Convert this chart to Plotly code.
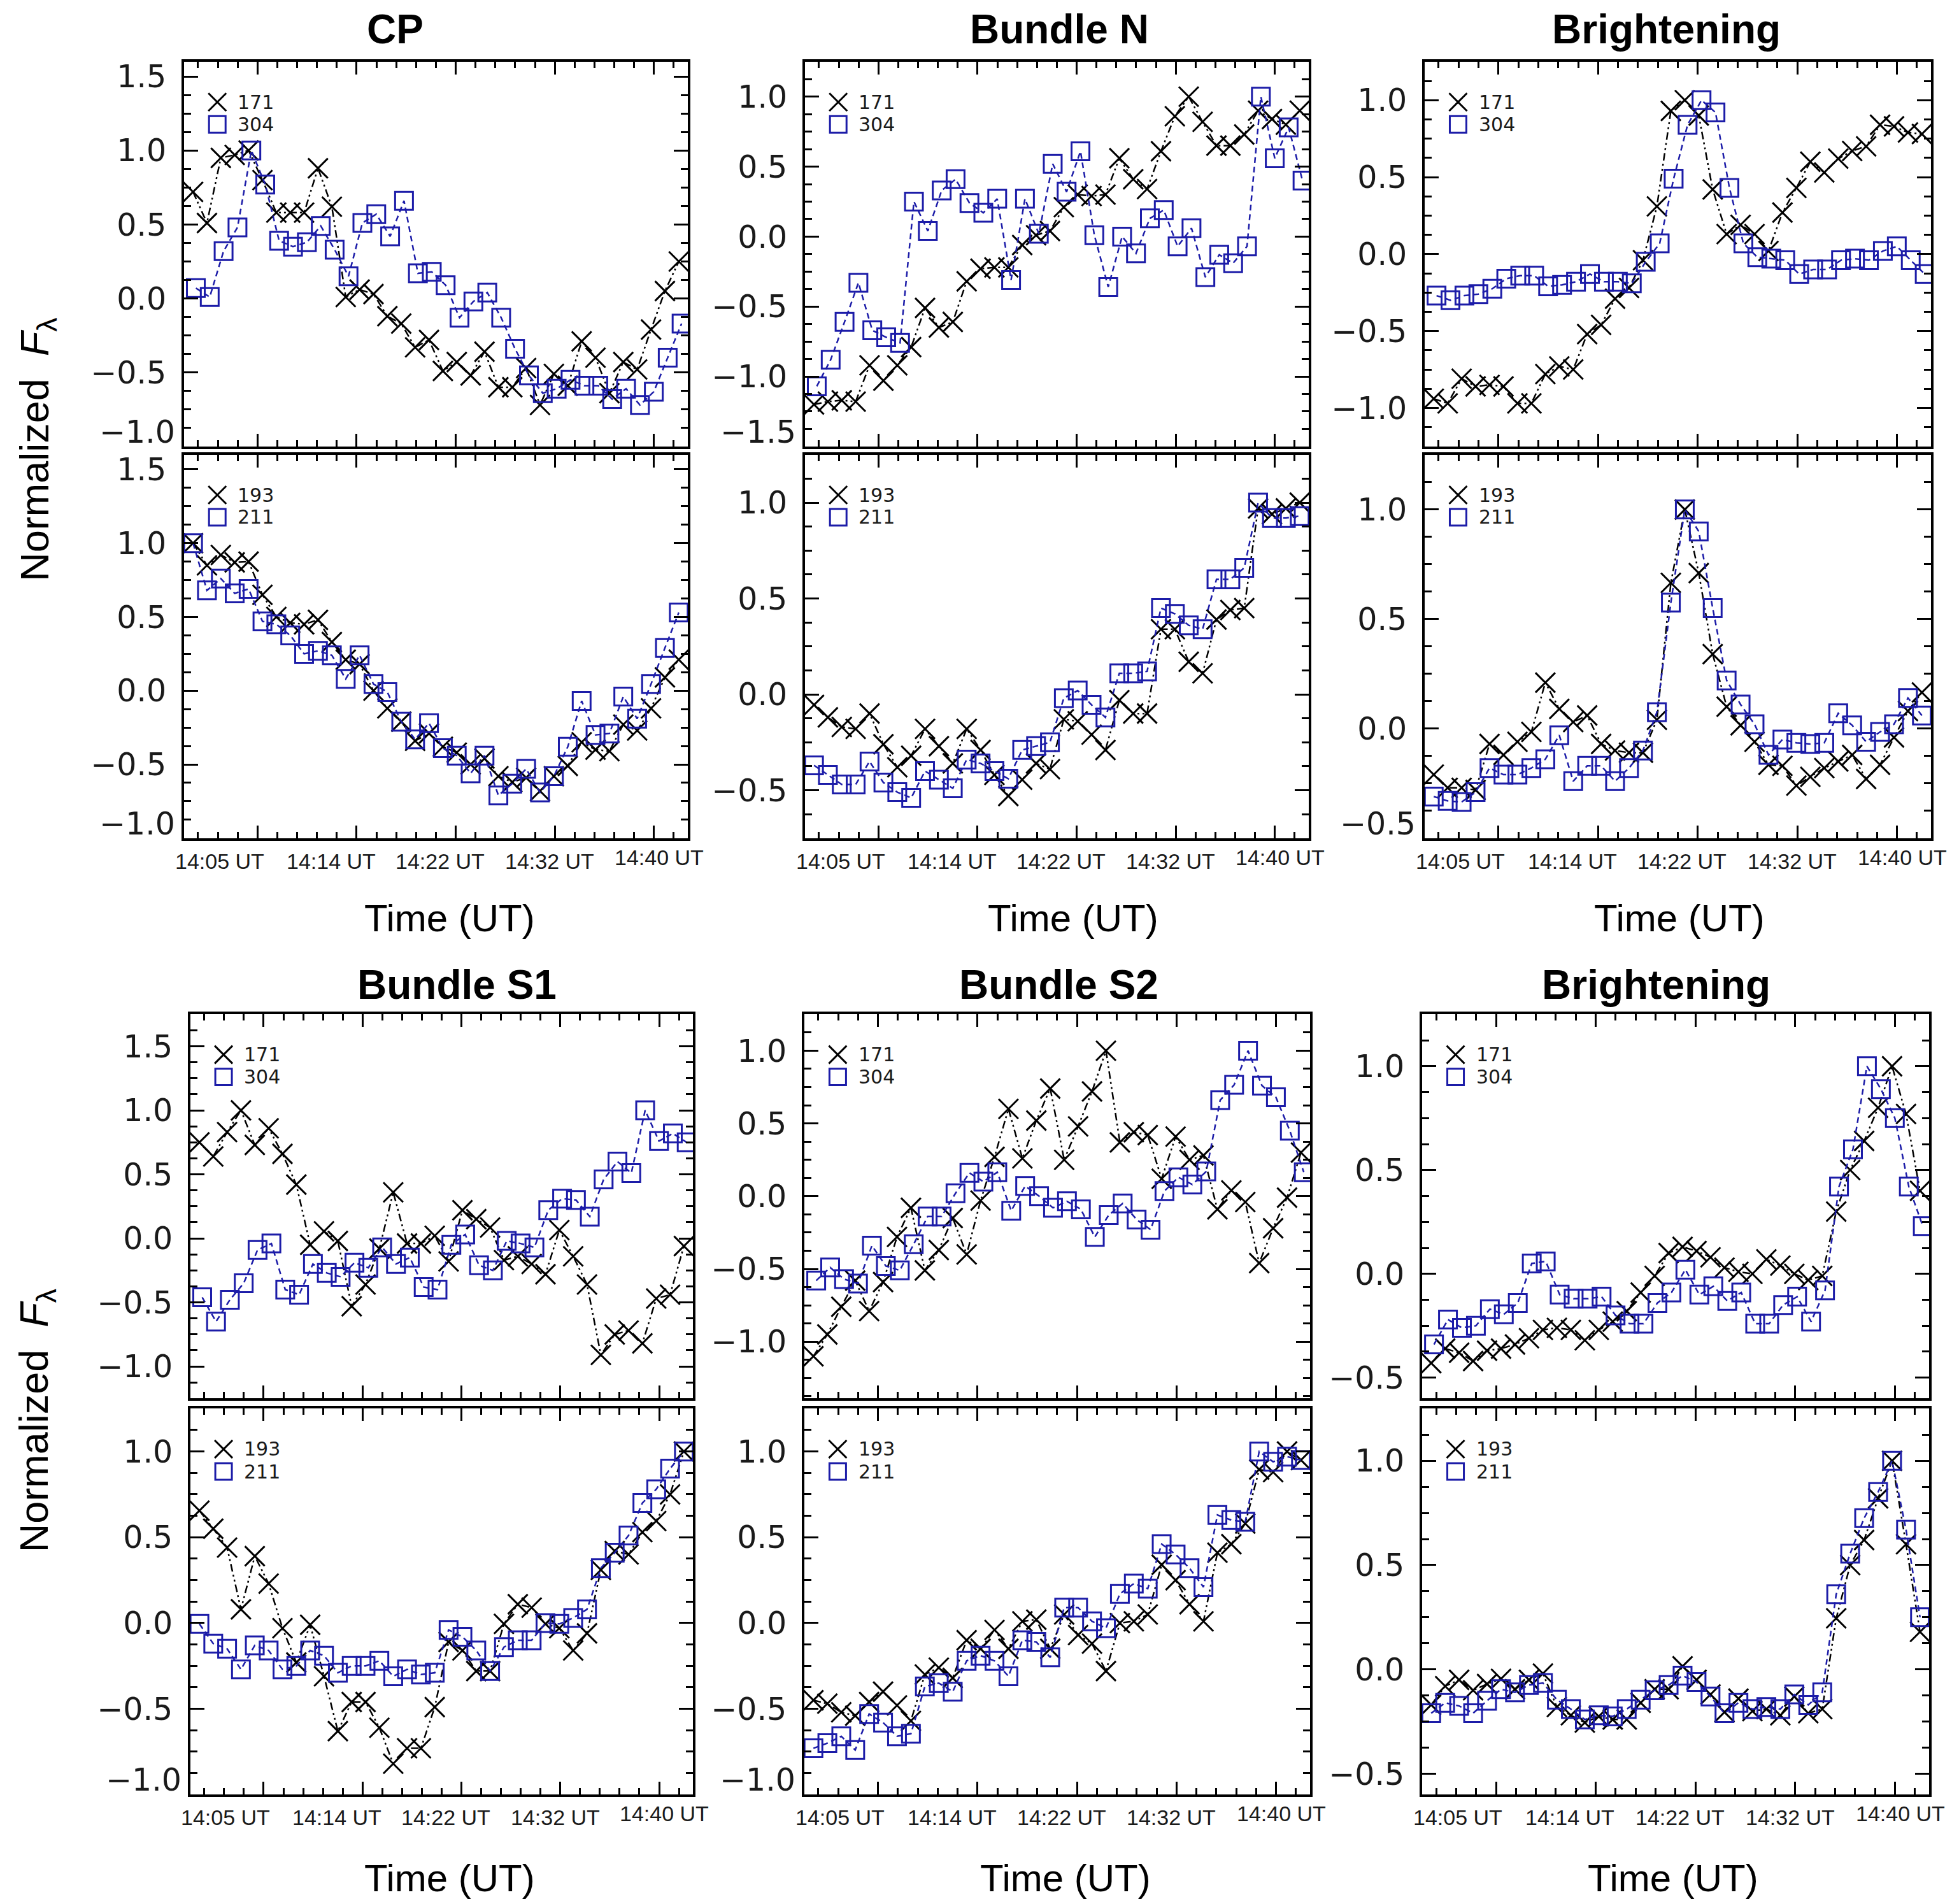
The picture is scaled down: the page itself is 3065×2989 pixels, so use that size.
import plotly.graph_objects as go
import math

# ---------------- data (normalized intensities, one value per frame) ----------------
frame_index = list(range(36))

time_labels = ["14:05 UT", "14:14 UT", "14:22 UT", "14:32 UT", "14:40 UT"]
titles = ["CP", "Bundle N", "Brightening", "Bundle S1", "Bundle S2", "Brightening"]
channels_top = ["171", "304"]
channels_bot = ["193", "211"]

cp_171 = [0.72, 0.51, 0.95, 0.97, 1.0, 0.80, 0.58, 0.58, 0.58, 0.88, 0.62, 0.01, 0.06, 0.03, -0.12, -0.17,
          -0.33, -0.28, -0.49, -0.43, -0.52, -0.36, -0.60, -0.60, -0.47, -0.72, -0.51, -0.59, -0.29, -0.40,
          -0.64, -0.43, -0.48, -0.21, 0.05, 0.25]
cp_304 = [0.07, 0.01, 0.32, 0.48, 1.0, 0.77, 0.39, 0.35, 0.38, 0.49, 0.33, 0.15, 0.51, 0.57, 0.42, 0.66,
          0.17, 0.18, 0.09, -0.13, -0.02, 0.04, -0.13, -0.34, -0.52, -0.64, -0.61, -0.55, -0.59, -0.59,
          -0.68, -0.61, -0.72, -0.63, -0.40, -0.17]
cp_193 = [1.0, 0.85, 0.92, 0.87, 0.875, 0.65, 0.50, 0.46, 0.45, 0.48, 0.33, 0.21, 0.18, 0.0, -0.12, -0.21,
          -0.34, -0.29, -0.38, -0.42, -0.50, -0.46, -0.58, -0.62, -0.59, -0.68, -0.58, -0.51, -0.35, -0.40,
          -0.41, -0.23, -0.27, -0.12, 0.09, 0.21]
cp_211 = [1.0, 0.68, 0.76, 0.66, 0.69, 0.47, 0.45, 0.375, 0.25, 0.27, 0.24, 0.08, 0.24, 0.045, -0.01, -0.21,
          -0.33, -0.22, -0.39, -0.44, -0.56, -0.44, -0.71, -0.63, -0.53, -0.69, -0.58, -0.38, -0.07, -0.30,
          -0.29, -0.04, -0.19, 0.045, 0.29, 0.53]

bn_171 = [-1.20, -1.18, -1.17, -1.18, -0.92, -1.03, -0.92, -0.79, -0.51, -0.65, -0.61, -0.32, -0.23, -0.22,
          -0.22, -0.06, 0.01, 0.04, 0.21, 0.30, 0.29, 0.30, 0.56, 0.41, 0.34, 0.61, 0.86, 1.0, 0.82, 0.65,
          0.65, 0.73, 0.90, 0.84, 0.80, 0.90]
bn_304 = [-1.07, -0.88, -0.61, -0.33, -0.67, -0.72, -0.76, 0.25, 0.04, 0.33, 0.41, 0.24, 0.17, 0.27, -0.31,
          0.27, 0.02, 0.52, 0.32, 0.61, 0.01, -0.36, 0.0, -0.12, 0.13, 0.19, -0.07, 0.06, -0.29, -0.13,
          -0.19, -0.07, 1.0, 0.56, 0.78, 0.40]
bn_193 = [-0.055, -0.12, -0.17, -0.18, -0.10, -0.26, -0.38, -0.32, -0.18, -0.27, -0.36, -0.18, -0.29, -0.42,
          -0.53, -0.445, -0.36, -0.39, -0.13, -0.14, -0.21, -0.29, -0.03, -0.10, -0.10, 0.34, 0.34, 0.17,
          0.11, 0.39, 0.44, 0.45, 0.97, 0.94, 0.97, 1.0]
bn_211 = [-0.37, -0.42, -0.47, -0.47, -0.35, -0.46, -0.51, -0.54, -0.40, -0.445, -0.49, -0.34, -0.36, -0.40,
          -0.44, -0.29, -0.27, -0.25, -0.02, 0.02, -0.055, -0.12, 0.11, 0.11, 0.12, 0.45, 0.42, 0.36, 0.34,
          0.60, 0.60, 0.66, 1.0, 0.92, 0.92, 0.93]

br1_171 = [-0.94, -0.97, -0.81, -0.86, -0.85, -0.86, -0.97, -0.97, -0.78, -0.73, -0.75, -0.52, -0.46, -0.29,
           -0.22, -0.04, 0.31, 0.93, 1.0, 0.90, 0.42, 0.13, 0.19, 0.13, 0.02, 0.27, 0.43, 0.60, 0.53, 0.62,
           0.67, 0.70, 0.84, 0.83, 0.79, 0.78]
br1_304 = [-0.27, -0.30, -0.27, -0.26, -0.225, -0.16, -0.14, -0.14, -0.21, -0.20, -0.18, -0.13, -0.18, -0.18,
           -0.19, -0.05, 0.07, 0.49, 0.84, 1.0, 0.92, 0.43, 0.07, -0.02, -0.03, -0.04, -0.13, -0.10, -0.10,
           -0.04, -0.03, -0.04, 0.02, 0.05, -0.04, -0.13]
br1_193 = [-0.21, -0.27, -0.27, -0.28, -0.07, -0.12, -0.06, -0.015, 0.21, 0.09, 0.03, 0.06, -0.07, -0.10,
           -0.11, -0.11, 0.04, 0.665, 1.0, 0.71, 0.34, 0.10, 0.015, -0.06, -0.165, -0.17, -0.26, -0.22,
           -0.18, -0.15, -0.12, -0.23, -0.165, -0.04, 0.08, 0.165]
br1_211 = [-0.31, -0.33, -0.335, -0.29, -0.18, -0.21, -0.21, -0.18, -0.14, -0.03, -0.24, -0.17, -0.17, -0.24,
           -0.18, -0.10, 0.075, 0.575, 1.0, 0.90, 0.55, 0.22, 0.11, 0.02, -0.12, -0.05, -0.065, -0.07,
           -0.065, 0.07, 0.015, -0.06, -0.015, 0.02, 0.14, 0.06]

s1_171 = [0.75, 0.64, 0.83, 1.0, 0.73, 0.86, 0.66, 0.42, -0.05, 0.055, -0.02, -0.53, -0.36, -0.08, 0.36,
          -0.04, -0.04, 0.02, -0.18, 0.22, 0.15, 0.085, -0.17, -0.14, -0.20, -0.28, 0.065, -0.14, -0.36,
          -0.91, -0.75, -0.72, -0.82, -0.47, -0.44, -0.06]
s1_304 = [-0.46, -0.65, -0.48, -0.35, -0.09, -0.04, -0.40, -0.44, -0.20, -0.27, -0.30, -0.19, -0.23, -0.07,
          -0.20, -0.15, -0.38, -0.40, -0.05, 0.03, -0.21, -0.25, -0.02, -0.04, -0.07, 0.22, 0.31, 0.30, 0.17,
          0.46, 0.60, 0.51, 1.0, 0.76, 0.82, 0.75]
s1_193 = [0.655, 0.55, 0.44, 0.08, 0.39, 0.23, -0.03, -0.23, -0.01, -0.31, -0.63, -0.46, -0.46, -0.61, -0.82,
          -0.73, -0.73, -0.49, -0.11, -0.16, -0.28, -0.28, -0.005, 0.11, 0.09, -0.005, -0.03, -0.16, -0.06,
          0.31, 0.42, 0.40, 0.53, 0.595, 0.75, 1.0]
s1_211 = [-0.005, -0.12, -0.15, -0.27, -0.13, -0.16, -0.27, -0.25, -0.16, -0.19, -0.29, -0.25, -0.25, -0.22,
          -0.31, -0.27, -0.30, -0.29, -0.04, -0.08, -0.16, -0.28, -0.14, -0.10, -0.10, 0.0, -0.005, 0.03,
          0.08, 0.32, 0.41, 0.51, 0.70, 0.78, 0.90, 1.0]

s2_171 = [-1.10, -0.95, -0.76, -0.58, -0.79, -0.59, -0.28, -0.08, -0.51, -0.37, -0.15, -0.40, -0.03, 0.27,
          0.60, 0.26, 0.52, 0.74, 0.25, 0.48, 0.72, 1.0, 0.37, 0.44, 0.42, 0.12, 0.41, 0.25, 0.28, -0.09,
          0.04, -0.04, -0.46, -0.22, -0.01, 0.30]
s2_304 = [-0.58, -0.49, -0.57, -0.60, -0.34, -0.48, -0.51, -0.33, -0.14, -0.14, 0.02, 0.16, 0.10, 0.165,
          -0.10, 0.07, 0.0, -0.08, -0.035, -0.09, -0.28, -0.13, -0.05, -0.16, -0.23, 0.035, 0.13, 0.08, 0.17,
          0.66, 0.765, 1.0, 0.76, 0.68, 0.45, 0.165]
s2_193 = [-0.45, -0.47, -0.52, -0.54, -0.46, -0.40, -0.48, -0.57, -0.30, -0.26, -0.32, -0.10, -0.15, -0.04,
          -0.15, 0.01, 0.02, -0.15, 0.05, -0.07, -0.12, -0.28, 0.0, 0.01, 0.05, 0.34, 0.25, 0.11, 0.01, 0.41,
          0.46, 0.58, 0.895, 0.88, 1.0, 0.95]
s2_211 = [-0.73, -0.70, -0.66, -0.74, -0.53, -0.58, -0.66, -0.645, -0.37, -0.35, -0.40, -0.22, -0.19, -0.22,
          -0.31, -0.10, -0.11, -0.20, 0.09, 0.09, 0.01, -0.03, 0.17, 0.23, 0.20, 0.46, 0.40, 0.32, 0.21, 0.63,
          0.60, 0.59, 1.0, 0.94, 0.97, 0.95]

br2_171 = [-0.43, -0.36, -0.38, -0.42, -0.37, -0.36, -0.34, -0.31, -0.27, -0.26, -0.27, -0.32, -0.27, -0.23,
           -0.18, -0.09, -0.01, 0.10, 0.13, 0.11, 0.08, 0.03, 0.01, 0.0, 0.07, 0.04, 0.0, -0.03, -0.01, 0.30,
           0.50, 0.64, 0.80, 1.0, 0.77, 0.40]
br2_304 = [-0.34, -0.22, -0.26, -0.25, -0.17, -0.195, -0.14, 0.05, 0.06, -0.10, -0.12, -0.12, -0.11, -0.20,
           -0.24, -0.24, -0.14, -0.09, 0.02, -0.10, -0.06, -0.13, -0.09, -0.24, -0.24, -0.15, -0.11, -0.23,
           -0.08, 0.42, 0.60, 1.0, 0.89, 0.75, 0.42, 0.23]
br2_193 = [-0.17, -0.08, -0.05, -0.10, -0.07, -0.045, -0.095, -0.05, -0.02, -0.18, -0.22, -0.255, -0.225,
           -0.24, -0.24, -0.16, -0.095, -0.095, 0.015, -0.05, -0.12, -0.205, -0.14, -0.20, -0.19, -0.22,
           -0.13, -0.21, -0.19, 0.245, 0.50, 0.62, 0.82, 1.0, 0.60, 0.18]
br2_211 = [-0.21, -0.16, -0.175, -0.21, -0.15, -0.095, -0.11, -0.075, -0.065, -0.145, -0.19, -0.24, -0.22,
           -0.225, -0.19, -0.145, -0.10, -0.075, -0.03, -0.06, -0.13, -0.21, -0.16, -0.19, -0.18, -0.19,
           -0.12, -0.17, -0.11, 0.36, 0.555, 0.725, 0.85, 1.0, 0.67, 0.25]

series = [
    ((cp_171, cp_304), (cp_193, cp_211)),
    ((bn_171, bn_304), (bn_193, bn_211)),
    ((br1_171, br1_304), (br1_193, br1_211)),
    ((s1_171, s1_304), (s1_193, s1_211)),
    ((s2_171, s2_304), (s2_193, s2_211)),
    ((br2_171, br2_304), (br2_193, br2_211)),
]

# ---------------- layout / style ----------------
W, H = 3065, 2989          # browser window
PAGE_MARGIN = 8            # default <body> margin of the html page
FW, FH = W - 2 * PAGE_MARGIN, H - 2 * PAGE_MARGIN   # figure size that fits the window


def fx(px):
    return (px - PAGE_MARGIN) / FW


def fy(py):
    return 1 - (py - PAGE_MARGIN) / FH


X_RANGE = [-0.65, 35.65]
MAJOR0, MAJOR_STEP = 4.64, 50.0 / 7.0
LABEL_POS = [1.9, 9.95, 17.8, 25.7, 33.6]
OFFSET_304 = 0.2
BLUE = "#1c1ca8"
SANS = "Liberation Sans, Arial, sans-serif"
TICKF = "DejaVu Sans, sans-serif"
YTICK_SIZE = 49
STANDOFF = 14

# per group: panel x-pixels, (top, bottom) y-pixels, y-ranges (top, bottom), title pos, 'Time' label pos
geom = [
    dict(xpx=(289, 1080), ypx=((92, 697), (710, 1313)), yr=((-1.0, 1.6), (-1.0, 1.6)), tp=(620, 41), tl=(706, 1439)),
    dict(xpx=(1264, 2055), ypx=((92, 697), (710, 1313)), yr=((-1.5, 1.25), (-0.75, 1.25)), tp=(1664, 41), tl=(1685, 1439)),
    dict(xpx=(2237, 3032), ypx=((92, 697), (710, 1313)), yr=((-1.25, 1.25), (-0.5, 1.25)), tp=(2616, 41), tl=(2637, 1439)),
    dict(xpx=(299, 1088), ypx=((1590, 2194), (2210, 2817)), yr=((-1.25, 1.75), (-1.0, 1.25)), tp=(717, 1544), tl=(706, 2948)),
    dict(xpx=(1263, 2057), ypx=((1590, 2194), (2210, 2817)), yr=((-1.39, 1.25), (-1.0, 1.25)), tp=(1662, 1544), tl=(1673, 2948)),
    dict(xpx=(2233, 3029), ypx=((1590, 2194), (2210, 2817)), yr=((-0.6, 1.25), (-0.6, 1.25)), tp=(2600, 1544), tl=(2627, 2948)),
]


def fmt(v):
    return f"{v:.1f}".replace("-", "\u2212")


fig = go.Figure()
layout = {}
annotations = []
shapes = []

k = 0
for g, gm in enumerate(geom):
    for p in range(2):  # 0 = top (171/304), 1 = bottom (193/211)
        k += 1
        sfx = "" if k == 1 else str(k)
        xa, ya = "x" + sfx, "y" + sfx
        black_vals, blue_vals = series[g][p]
        names = channels_top if p == 0 else channels_bot
        off = OFFSET_304 if p == 0 else 0.0

        fig.add_trace(go.Scatter(
            x=frame_index, y=black_vals, xaxis=xa, yaxis=ya, mode="lines+markers", name=names[0],
            showlegend=False,
            line=dict(color="black", width=2.5, dash="12px,5px,3px,5px,3px,5px"),
            marker=dict(symbol="x-thin", size=31, color="black", line=dict(width=3, color="black")),
        ))
        fig.add_trace(go.Scatter(
            x=[i + off for i in frame_index], y=blue_vals, xaxis=xa, yaxis=ya, mode="lines+markers",
            name=names[1], showlegend=False,
            line=dict(color=BLUE, width=2.5, dash="9px,6px"),
            marker=dict(symbol="square-open", size=28, color=BLUE, line=dict(width=3, color=BLUE)),
        ))

        x0, x1 = gm["xpx"]
        y0, y1 = gm["ypx"][p]
        pw, ph = x1 - x0, y1 - y0
        lo, hi = gm["yr"][p]
        majors = [m * 0.5 for m in range(math.ceil(lo / 0.5 - 1e-9), math.floor(hi / 0.5 + 1e-9) + 1)]
        inner = [v for v in majors if abs(v - lo) > 1e-9]
        edge = [v for v in majors if abs(v - lo) <= 1e-9]

        layout["xaxis" + sfx] = dict(
            domain=[fx(x0), fx(x1)], anchor=ya, range=X_RANGE, showgrid=False, zeroline=False,
            showline=True, linecolor="black", linewidth=4, mirror="allticks",
            ticks="inside", ticklen=20, tickwidth=3, tickcolor="black",
            tickmode="linear", tick0=MAJOR0, dtick=MAJOR_STEP, showticklabels=False,
            minor=dict(ticks="inside", ticklen=10, tickwidth=3, tickcolor="black", tickmode="linear",
                       tick0=MAJOR0, dtick=MAJOR_STEP / 5, showgrid=False),
        )
        layout["yaxis" + sfx] = dict(
            domain=[fy(y1), fy(y0)], anchor=xa, range=[lo, hi], showgrid=False,
            zeroline=False, showline=True, linecolor="black", linewidth=4, mirror="allticks",
            ticks="inside", ticklen=22, tickwidth=3, tickcolor="black",
            tickmode="array", tickvals=inner, ticktext=[fmt(v) for v in inner],
            tickfont=dict(family=TICKF, size=YTICK_SIZE, color="#1a1a1a"), ticklabelstandoff=STANDOFF,
            minor=dict(ticks="inside", ticklen=11, tickwidth=3, tickcolor="black", tickmode="linear",
                       tick0=0, dtick=0.125, showgrid=False),
        )
        # lowest tick label sits just above the bottom edge (as in the original)
        for v in edge:
            annotations.append(dict(xref=xa + " domain", yref=ya, x=0, y=v, text=fmt(v), showarrow=False,
                                    xanchor="right", yanchor="bottom", xshift=-STANDOFF + 2, yshift=-8,
                                    font=dict(family=TICKF, size=YTICK_SIZE, color="#1a1a1a")))

        # in-panel key
        xd, yd = xa + " domain", ya + " domain"
        cx, cy1, cy2 = 0.066, 1 - 0.105, 1 - 0.163
        hx, hy = 14 / pw, 14 / ph
        shapes.append(dict(type="line", xref=xd, yref=yd, x0=cx - hx, y0=cy1 - hy, x1=cx + hx, y1=cy1 + hy,
                           line=dict(color="black", width=3)))
        shapes.append(dict(type="line", xref=xd, yref=yd, x0=cx - hx, y0=cy1 + hy, x1=cx + hx, y1=cy1 - hy,
                           line=dict(color="black", width=3)))
        sx, sy = 13 / pw, 13 / ph
        shapes.append(dict(type="rect", xref=xd, yref=yd, x0=cx - sx, y0=cy2 - sy, x1=cx + sx, y1=cy2 + sy,
                           line=dict(color=BLUE, width=3), fillcolor="rgba(0,0,0,0)"))
        for nm, cy in zip(names, (cy1, cy2)):
            annotations.append(dict(xref=xd, yref=yd, x=0.104, y=cy, text=nm, showarrow=False,
                                    xanchor="left", yanchor="middle",
                                    font=dict(family=TICKF, size=30, color="#1a1a1a")))

        # time tick labels under the lower panel
        if p == 1:
            for j, (pos, lab) in enumerate(zip(LABEL_POS, time_labels)):
                annotations.append(dict(xref=xa, yref=yd, x=pos, y=0, text=lab, showarrow=False,
                                        xanchor="center", yanchor="middle",
                                        yshift=-30 if j == 4 else -36,
                                        font=dict(family=SANS, size=34, color="#1a1a1a")))

    # group title and x-axis title
    tx, ty = gm["tp"]
    annotations.append(dict(xref="paper", yref="paper", x=fx(tx), y=fy(ty), text="<b>" + titles[g] + "</b>",
                            showarrow=False, xanchor="center", yanchor="middle",
                            font=dict(family=SANS, size=64, color="black")))
    lx, ly = gm["tl"]
    annotations.append(dict(xref="paper", yref="paper", x=fx(lx), y=fy(ly), text="Time (UT)",
                            showarrow=False, xanchor="center", yanchor="middle",
                            font=dict(family=SANS, size=60, color="black")))

# y-axis titles
for (yx, yy) in [(59, 702), (57, 2229)]:
    annotations.append(dict(xref="paper", yref="paper", x=fx(yx), y=fy(yy),
                            text="Normalized  <i>F</i><sub>λ</sub>", textangle=-90, showarrow=False,
                            xanchor="center", yanchor="middle",
                            font=dict(family=SANS, size=63, color="black")))

fig.update_layout(
    width=FW, height=FH, margin=dict(l=0, r=0, t=0, b=0),
    paper_bgcolor="white", plot_bgcolor="white", showlegend=False,
    annotations=annotations, shapes=shapes, **layout,
)

fig.write_html("out.html")
